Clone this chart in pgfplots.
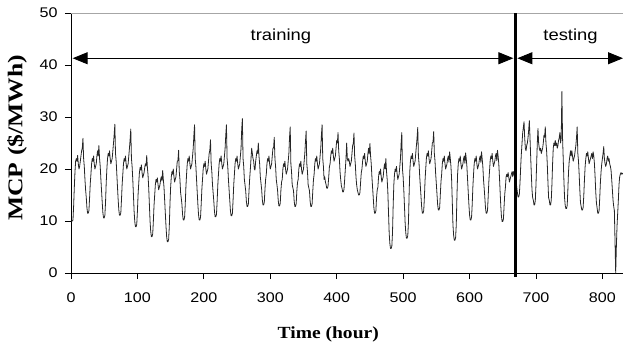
\documentclass[border=0pt]{standalone}
\usepackage{fontspec}
\setmainfont{Liberation Sans}[FakeStretch=1.15]
\newfontfamily\labfont{Liberation Serif}[FakeStretch=1.15]
\newfontfamily\ylabfont{Liberation Serif}[FakeStretch=1.22]
\usepackage{pgfplots}
\pgfplotsset{compat=1.18}
\usetikzlibrary{arrows.meta}
\begin{document}
\begin{tikzpicture}
\path[use as bounding box] (-71bp,-76bp) rectangle (552bp,273bp);
\begin{axis}[
  at={(0,0)}, anchor=south west,
  scale only axis, width=552bp, height=260bp,
  xmin=0, xmax=831, ymin=0, ymax=50,
  axis lines*=left,
  axis line style={black, line width=0.8bp},
  xtick={0,100,...,800}, ytick={0,10,...,50},
  tick align=outside, major tick length=6bp,
  tick style={black, line width=0.8bp},
  /pgf/number format/assume math mode=true,
  ticklabel style={font=\fontsize{14bp}{16bp}\selectfont},
  xticklabel style={yshift=-10bp},
  yticklabel style={xshift=-4bp},
  xlabel={Time (hour)},
  ylabel={MCP (\$/MWh)},
  xlabel style={font=\labfont\bfseries\fontsize{17bp}{19bp}\selectfont, at={(axis description cs:0.466,-0.235)}, anchor=center},
  ylabel style={font=\ylabfont\bfseries\fontsize{21bp}{23bp}\selectfont, at={(axis description cs:-0.098,0.52)}, anchor=center},
  clip=false,
]
\addplot[black!85, line width=0.8bp, line join=round] table[x expr=\coordindex, y=v, row sep=\\] {
v \\
10 \\ 10 \\ 10 \\ 10.2 \\ 13 \\ 16.5 \\ 19.5 \\ 21.5 \\ 22 \\ 21.5 \\ 22.6 \\ 21 \\ 20 \\ 20.5 \\ 21.5 \\ 22.5 \\ 23.5 \\ 24 \\ 25.9 \\ 22 \\ 20.5 \\ 18 \\ 16 \\ 14.5 \\
12.5 \\ 11.5 \\ 11.5 \\ 12 \\ 14.5 \\ 17.2 \\ 19 \\ 21 \\ 22 \\ 21.5 \\ 22.5 \\ 21 \\ 20 \\ 20.5 \\ 21 \\ 22.5 \\ 23.5 \\ 22.5 \\ 24.5 \\ 22 \\ 20.5 \\ 18 \\ 15.8 \\ 13.6 \\
11.6 \\ 10.6 \\ 10.6 \\ 11.1 \\ 13.6 \\ 17.3 \\ 20 \\ 22 \\ 23 \\ 22.5 \\ 23.5 \\ 22 \\ 21 \\ 21.5 \\ 22 \\ 23.5 \\ 25 \\ 26.6 \\ 28.6 \\ 23 \\ 21.5 \\ 19 \\ 16.5 \\ 14.1 \\
12.1 \\ 11.1 \\ 11.1 \\ 11.6 \\ 14.1 \\ 17 \\ 19 \\ 21 \\ 22 \\ 21.5 \\ 22.5 \\ 21 \\ 20 \\ 20.5 \\ 21 \\ 22.5 \\ 24 \\ 25.7 \\ 27.7 \\ 22 \\ 20.5 \\ 18 \\ 15 \\ 11.9 \\
9.9 \\ 8.9 \\ 8.9 \\ 9.4 \\ 11.9 \\ 15.1 \\ 17.3 \\ 19.3 \\ 20.3 \\ 19.8 \\ 20.8 \\ 19.3 \\ 18.3 \\ 18.8 \\ 19.3 \\ 20.3 \\ 21 \\ 20.6 \\ 22.6 \\ 20.3 \\ 18.8 \\ 16.3 \\ 13.2 \\ 10 \\
8 \\ 7 \\ 7 \\ 7.5 \\ 10 \\ 13 \\ 15 \\ 17 \\ 18 \\ 17.5 \\ 18.3 \\ 17 \\ 16 \\ 16.5 \\ 17 \\ 18 \\ 18.5 \\ 17.7 \\ 19.7 \\ 18 \\ 16.5 \\ 14 \\ 11.5 \\ 9 \\
7 \\ 6 \\ 6 \\ 6.5 \\ 9 \\ 13.3 \\ 16.5 \\ 18.5 \\ 19.5 \\ 19 \\ 20 \\ 18.5 \\ 17.5 \\ 18 \\ 18.5 \\ 20 \\ 21.5 \\ 21.6 \\ 23.6 \\ 19.5 \\ 18 \\ 15.5 \\ 14.4 \\ 13.2 \\
11.2 \\ 10.2 \\ 10.2 \\ 10.7 \\ 13.2 \\ 16.6 \\ 19 \\ 21 \\ 22 \\ 21.5 \\ 22.5 \\ 21 \\ 20 \\ 20.5 \\ 21 \\ 22.5 \\ 24 \\ 26.5 \\ 28.5 \\ 22 \\ 20.5 \\ 18 \\ 15.6 \\ 13.2 \\
11.2 \\ 10.2 \\ 10.2 \\ 10.7 \\ 13.2 \\ 16.1 \\ 18 \\ 20 \\ 21 \\ 20.5 \\ 21.5 \\ 20 \\ 19 \\ 19.5 \\ 20 \\ 21.5 \\ 23 \\ 23.6 \\ 25.6 \\ 21 \\ 19.5 \\ 17 \\ 15.4 \\ 13.8 \\
11.8 \\ 10.8 \\ 10.8 \\ 11.3 \\ 13.8 \\ 16.9 \\ 19 \\ 21 \\ 22 \\ 21.5 \\ 22.5 \\ 21 \\ 20 \\ 20.5 \\ 21 \\ 22.5 \\ 24 \\ 26.5 \\ 28.5 \\ 22 \\ 20.5 \\ 18 \\ 16 \\ 14 \\
12 \\ 11 \\ 11 \\ 11.5 \\ 14 \\ 17 \\ 19 \\ 21 \\ 22 \\ 21.5 \\ 22.5 \\ 21 \\ 20 \\ 20.5 \\ 21 \\ 22.5 \\ 24 \\ 27.7 \\ 29.7 \\ 22 \\ 20.5 \\ 18 \\ 16.9 \\ 15.8 \\
13.8 \\ 12.8 \\ 12.8 \\ 13.3 \\ 15.8 \\ 18.2 \\ 20 \\ 22 \\ 24 \\ 23 \\ 22 \\ 21.5 \\ 20 \\ 19.8 \\ 21.5 \\ 22.5 \\ 23.5 \\ 23 \\ 25 \\ 22.5 \\ 21 \\ 18.5 \\ 17.3 \\ 16.1 \\
14.1 \\ 13.1 \\ 13.1 \\ 13.6 \\ 16.1 \\ 18 \\ 19 \\ 21 \\ 22 \\ 21.5 \\ 22.5 \\ 21 \\ 20 \\ 20.5 \\ 21 \\ 22.5 \\ 24 \\ 24.1 \\ 26.1 \\ 22 \\ 20.5 \\ 18 \\ 17 \\ 15.9 \\
13.9 \\ 12.9 \\ 12.9 \\ 13.4 \\ 15.9 \\ 17.5 \\ 18 \\ 20 \\ 21 \\ 20.5 \\ 21.5 \\ 20 \\ 19 \\ 19.5 \\ 20 \\ 21.5 \\ 23 \\ 26.1 \\ 28.1 \\ 21 \\ 19.5 \\ 17 \\ 16.4 \\ 15.8 \\
13.8 \\ 12.8 \\ 12.8 \\ 13.3 \\ 15.8 \\ 17.4 \\ 18 \\ 20 \\ 21 \\ 20.5 \\ 21.5 \\ 20 \\ 19 \\ 19.5 \\ 20 \\ 21.5 \\ 23 \\ 25.3 \\ 27.3 \\ 21 \\ 19.5 \\ 17 \\ 16.4 \\ 15.8 \\
13.8 \\ 12.8 \\ 12.8 \\ 13.3 \\ 15.8 \\ 17.9 \\ 19 \\ 21 \\ 22 \\ 21.5 \\ 22.5 \\ 21 \\ 20 \\ 20.5 \\ 21 \\ 22.5 \\ 24 \\ 26.5 \\ 28.5 \\ 22 \\ 20.5 \\ 18 \\ 18.5 \\ 17.5 \\
17 \\ 16.3 \\ 16.3 \\ 16.8 \\ 18.5 \\ 20.4 \\ 21 \\ 22.5 \\ 23.5 \\ 23 \\ 24 \\ 22.5 \\ 21.5 \\ 22 \\ 22.5 \\ 24 \\ 25.5 \\ 25 \\ 27 \\ 23.5 \\ 22 \\ 19.5 \\ 18 \\ 16.8 \\
16.3 \\ 15.6 \\ 15.6 \\ 16.1 \\ 18 \\ 20 \\ 22 \\ 25 \\ 22 \\ 21.5 \\ 22 \\ 21.5 \\ 20.5 \\ 21 \\ 21.5 \\ 23 \\ 24.5 \\ 24.9 \\ 26.9 \\ 22.5 \\ 21 \\ 18.5 \\ 17 \\ 16 \\
15.5 \\ 15 \\ 15 \\ 15.5 \\ 17.5 \\ 19.3 \\ 20 \\ 21.5 \\ 22.5 \\ 22 \\ 23 \\ 21.5 \\ 20.5 \\ 21 \\ 21.5 \\ 23 \\ 24 \\ 22.9 \\ 24.9 \\ 22.5 \\ 21 \\ 18.5 \\ 16.5 \\ 14.5 \\
12.5 \\ 11.5 \\ 11.5 \\ 12 \\ 14.5 \\ 16 \\ 16.5 \\ 18.5 \\ 19.5 \\ 19 \\ 20 \\ 18.5 \\ 17.5 \\ 18 \\ 18.5 \\ 20 \\ 21 \\ 20 \\ 22 \\ 19.5 \\ 18 \\ 15.5 \\ 11.6 \\ 7.7 \\
5.7 \\ 4.7 \\ 4.7 \\ 5.2 \\ 7.7 \\ 12.9 \\ 17 \\ 19 \\ 20 \\ 19.5 \\ 20.5 \\ 19 \\ 18 \\ 18.5 \\ 19 \\ 20.5 \\ 22 \\ 25 \\ 27 \\ 20 \\ 18.5 \\ 16 \\ 12.9 \\ 9.7 \\
7.7 \\ 6.7 \\ 6.7 \\ 7.2 \\ 9.7 \\ 15.1 \\ 19.5 \\ 21.5 \\ 22.5 \\ 22 \\ 23 \\ 21.5 \\ 20.5 \\ 21 \\ 21.5 \\ 23 \\ 24.5 \\ 26 \\ 28 \\ 22.5 \\ 21 \\ 18.5 \\ 16.5 \\ 14.5 \\
12.5 \\ 11.5 \\ 11.5 \\ 12 \\ 14.5 \\ 17.8 \\ 20 \\ 22 \\ 23 \\ 22.5 \\ 23.5 \\ 22 \\ 21 \\ 21.5 \\ 22 \\ 23.5 \\ 25 \\ 25.2 \\ 27.2 \\ 23 \\ 21.5 \\ 19 \\ 17.1 \\ 15.1 \\
13.1 \\ 12.1 \\ 12.1 \\ 12.6 \\ 15.1 \\ 17.6 \\ 19 \\ 21 \\ 22 \\ 21.5 \\ 22.5 \\ 21 \\ 20 \\ 20.5 \\ 21 \\ 22 \\ 22.5 \\ 21.3 \\ 23.3 \\ 22 \\ 20.5 \\ 18 \\ 13.7 \\ 9.3 \\
7.3 \\ 6.3 \\ 6.3 \\ 6.8 \\ 9.3 \\ 14.7 \\ 19 \\ 21 \\ 22 \\ 21.5 \\ 22.5 \\ 21 \\ 20 \\ 20.5 \\ 21 \\ 22 \\ 22.5 \\ 21.1 \\ 23.1 \\ 22 \\ 20.5 \\ 18 \\ 15.6 \\ 13.2 \\
11.2 \\ 10.2 \\ 10.2 \\ 10.7 \\ 13.2 \\ 16.6 \\ 19 \\ 21 \\ 22 \\ 21.5 \\ 22.5 \\ 21 \\ 20 \\ 20.5 \\ 21 \\ 22 \\ 22.5 \\ 21.3 \\ 23.3 \\ 22 \\ 20.5 \\ 18 \\ 16.3 \\ 14.5 \\
12.5 \\ 11.5 \\ 11.5 \\ 12 \\ 14.5 \\ 17.5 \\ 19.5 \\ 21.5 \\ 22.5 \\ 22 \\ 23 \\ 21.5 \\ 20.5 \\ 21 \\ 21.5 \\ 22.5 \\ 23 \\ 21.6 \\ 23.6 \\ 22.5 \\ 21 \\ 18.5 \\ 15.7 \\ 12.9 \\
10.9 \\ 9.9 \\ 9.9 \\ 10.4 \\ 12.9 \\ 15.2 \\ 16.5 \\ 18.5 \\ 19 \\ 18.5 \\ 19.3 \\ 18.5 \\ 17.5 \\ 18 \\ 18.5 \\ 19 \\ 19.5 \\ 18.5 \\ 19.5 \\ 19 \\ 18.5 \\ 18 \\ 17.5 \\ 16.5 \\
15.5 \\ 14.6 \\ 14.6 \\ 15.2 \\ 17.5 \\ 20.5 \\ 23 \\ 25 \\ 27 \\ 28 \\ 29.1 \\ 26 \\ 24 \\ 23.5 \\ 24.5 \\ 25 \\ 26 \\ 27.5 \\ 29.3 \\ 26 \\ 22.4 \\ 19 \\ 16 \\ 14.5 \\
14 \\ 13.1 \\ 13.1 \\ 14 \\ 17 \\ 21 \\ 25 \\ 27.8 \\ 25 \\ 24 \\ 23.5 \\ 24 \\ 23 \\ 23.5 \\ 24 \\ 25 \\ 26.5 \\ 26.1 \\ 28.1 \\ 25 \\ 23.5 \\ 21 \\ 17.5 \\ 14.5 \\
14 \\ 13.1 \\ 13.1 \\ 14 \\ 17 \\ 21 \\ 24 \\ 25 \\ 24.5 \\ 25.5 \\ 24.5 \\ 25 \\ 24 \\ 24.5 \\ 25.5 \\ 26 \\ 27 \\ 25 \\ 26 \\ 34.9 \\ 26 \\ 22 \\ 18 \\ 14.5 \\
13 \\ 12.4 \\ 12.4 \\ 13 \\ 16 \\ 19.5 \\ 21.5 \\ 22.5 \\ 23.5 \\ 22.5 \\ 23.5 \\ 22.5 \\ 21.5 \\ 22 \\ 22.5 \\ 23.5 \\ 24.5 \\ 26 \\ 28.1 \\ 23 \\ 21.5 \\ 19 \\ 16 \\ 13.5 \\
12.8 \\ 12.1 \\ 12.1 \\ 12.6 \\ 15 \\ 18 \\ 20.5 \\ 22 \\ 23 \\ 22.5 \\ 23.3 \\ 22 \\ 21 \\ 21.5 \\ 22 \\ 22.5 \\ 23 \\ 22 \\ 23.3 \\ 22.5 \\ 21 \\ 18.5 \\ 15.5 \\ 13.5 \\
12.5 \\ 11.5 \\ 11.5 \\ 12 \\ 14.5 \\ 17.5 \\ 19.5 \\ 21 \\ 22 \\ 23 \\ 24.3 \\ 22 \\ 21 \\ 20.5 \\ 21 \\ 22 \\ 22.5 \\ 21.5 \\ 22 \\ 21 \\ 20.5 \\ 19.8 \\ 18 \\ 16 \\
14 \\ 12.8 \\ 12 \\ 6 \\ 0 \\ 5 \\ 9 \\ 11.5 \\ 14 \\ 17 \\ 18.5 \\ 19 \\ 19.3 \\ 19 \\ 19.2 \\ 19 \\
};
\draw[gray!70, line width=0.8bp] (rel axis cs:0,1) -- (rel axis cs:1,1);
\draw[black, line width=3.5bp] (axis cs:669,-0.8) -- (axis cs:669,50);
\draw[black, line width=0.9bp, {Triangle[length=15bp,width=12bp]}-{Triangle[length=15bp,width=12bp]}] (axis cs:2.5,41.3) -- (axis cs:666,41.3);
\draw[black, line width=0.9bp, {Triangle[length=15bp,width=12bp]}-{Triangle[length=15bp,width=12bp]}] (axis cs:672,41.3) -- (axis cs:831,41.3);
\node[anchor=base, font=\fontsize{16bp}{18bp}\selectfont] at (axis cs:316,44.7) {training};
\node[anchor=base, font=\fontsize{16bp}{18bp}\selectfont] at (axis cs:752,44.7) {testing};
\end{axis}
\end{tikzpicture}
\end{document}
